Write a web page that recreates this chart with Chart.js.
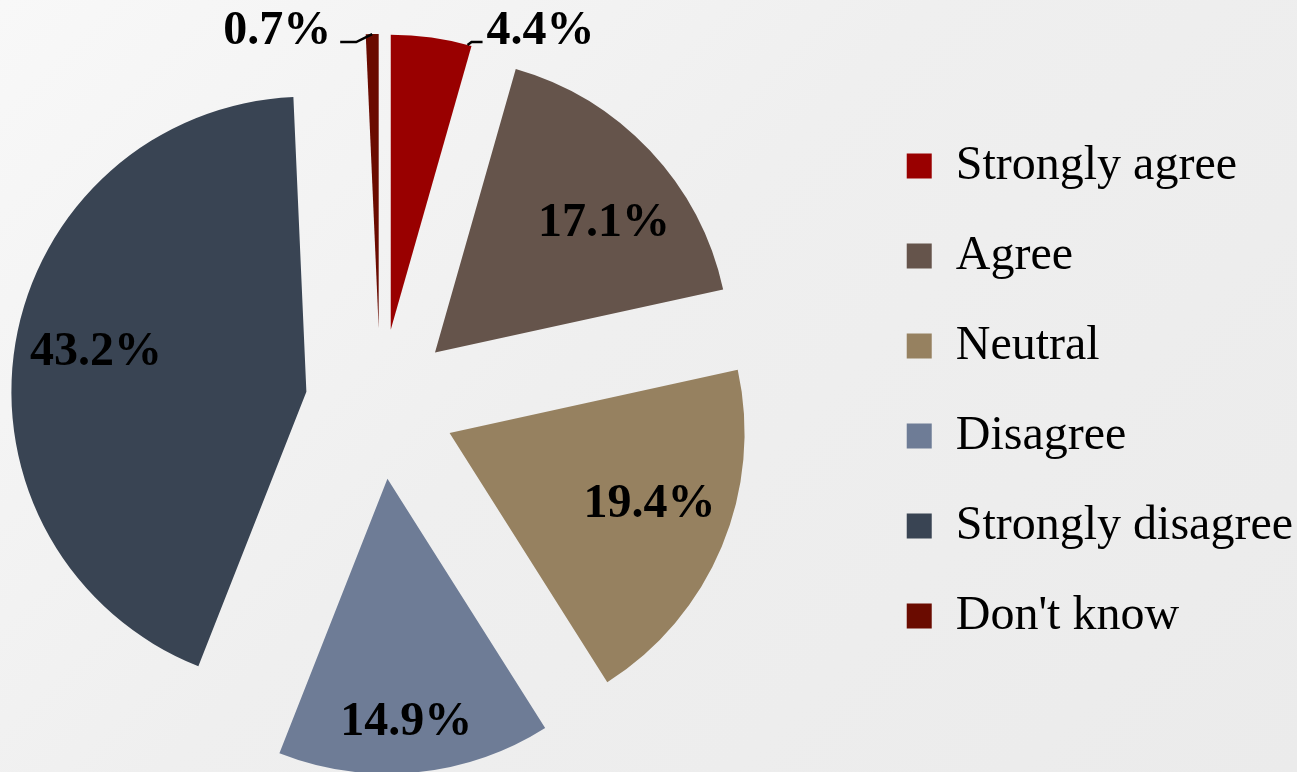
<!DOCTYPE html>
<html>
<head>
<meta charset="utf-8">
<script src="https://cdn.jsdelivr.net/npm/chart.js@4.4.0/dist/chart.umd.min.js"></script>
<style>
    html, body { margin: 0; padding: 0; overflow: hidden; }
    body { width: 1297px; height: 772px; background: linear-gradient(135deg, #f8f8f8 0%, #efefef 45%, #ebebeb 100%); }
    /* canvas is a bit wider than the page and pulled left, so the pie sits where it should next to the legend */
    #wrap { width: 1407px; height: 772px; margin-left: -104px; }
</style>
</head>
<body>
<div id="wrap"><canvas id="pie" width="1407" height="772"></canvas></div>
<script>
let labels = ['Strongly agree', 'Agree', 'Neutral', 'Disagree', 'Strongly disagree', "Don't know"];
let shares = [4.4, 17.1, 19.4, 14.9, 43.2, 0.7];
let colors = ['#990000', '#65544b', '#968160', '#6e7c96', '#394453', '#6a0b00'];

let serif = '"Liberation Serif", "Times New Roman", serif';
let explode = 75;

// where each percentage sits: fraction of radius out from the slice tip + angle nudge (deg)
// outside ones get a short leader line instead
let labelSpots = [
    { out: 'right', at: 0.95 },
    { r: 0.72, turn: 6 },
    { r: 0.72, turn: -3 },
    { r: 0.83, turn: 1 },
    { r: 0.725, turn: 1 },
    { out: 'left', at: 0.5 }
];

// pull every slice out along its middle angle
let explodePlugin = {
    id: 'explode',
    beforeDatasetDraw: function (chart, args) {
        let ctx = chart.ctx;
        for (let arc of args.meta.data) {
            let mid = (arc.startAngle + arc.endAngle) / 2;
            ctx.save();
            ctx.translate(Math.cos(mid) * explode, Math.sin(mid) * explode);
            arc.draw(ctx);
            ctx.restore();
        }
        return false;
    }
};

let labelPlugin = {
    id: 'pctLabels',
    afterDatasetsDraw: function (chart) {
        let ctx = chart.ctx;
        let meta = chart.getDatasetMeta(0);
        ctx.save();
        ctx.font = 'bold 48px ' + serif;
        ctx.fillStyle = '#000';
        ctx.strokeStyle = '#000';
        ctx.lineWidth = 2.5;
        meta.data.forEach(function (arc, i) {
            let text = shares[i].toFixed(1) + '%';
            let spot = labelSpots[i];
            let mid = (arc.startAngle + arc.endAngle) / 2;
            let tipX = arc.x + Math.cos(mid) * explode;
            let tipY = arc.y + Math.sin(mid) * explode;

            if (!spot.out) {
                let a = mid + spot.turn * Math.PI / 180;
                let d = spot.r * arc.outerRadius;
                ctx.textAlign = 'center';
                ctx.textBaseline = 'middle';
                ctx.fillText(text, tipX + Math.cos(a) * d, tipY + Math.sin(a) * d);
                return;
            }

            let a = arc.startAngle + (arc.endAngle - arc.startAngle) * spot.at;
            let ax = tipX + Math.cos(a) * arc.outerRadius;
            let ay = tipY + Math.sin(a) * arc.outerRadius;
            ctx.textBaseline = 'alphabetic';
            ctx.beginPath();
            ctx.moveTo(ax, ay);
            if (spot.out === 'right') {
                ctx.lineTo(ax + 4, ay - 3);
                ctx.lineTo(ax + 15, ay - 3);
                ctx.stroke();
                ctx.textAlign = 'left';
                ctx.fillText(text, ax + 19, ay - 1);
            } else {
                ctx.lineTo(ax - 16, ay + 8);
                ctx.lineTo(ax - 32, ay + 8);
                ctx.stroke();
                ctx.textAlign = 'right';
                ctx.fillText(text, ax - 41, ay + 10);
            }
        });
        ctx.restore();
    }
};

new Chart(document.getElementById('pie'), {
    type: 'pie',
    data: {
        labels: labels,
        datasets: [{
            data: shares,
            backgroundColor: colors,
            borderWidth: 0,
            radius: 295
        }]
    },
    options: {
        responsive: false,
        animation: false,
        devicePixelRatio: 1,
        layout: {
            padding: { left: 0, right: 0, top: 36, bottom: 0 }
        },
        plugins: {
            tooltip: { enabled: false },
            legend: {
                position: 'right',
                // empty title with negative padding just lifts the legend a bit
                title: { display: true, text: '', font: { size: 10 }, padding: { top: 0, bottom: -38 } },
                labels: {
                    boxWidth: 25,
                    boxHeight: 25,
                    padding: 42,
                    color: '#000',
                    font: { family: serif, size: 48 }
                }
            }
        }
    },
    plugins: [explodePlugin, labelPlugin]
});
</script>
</body>
</html>
